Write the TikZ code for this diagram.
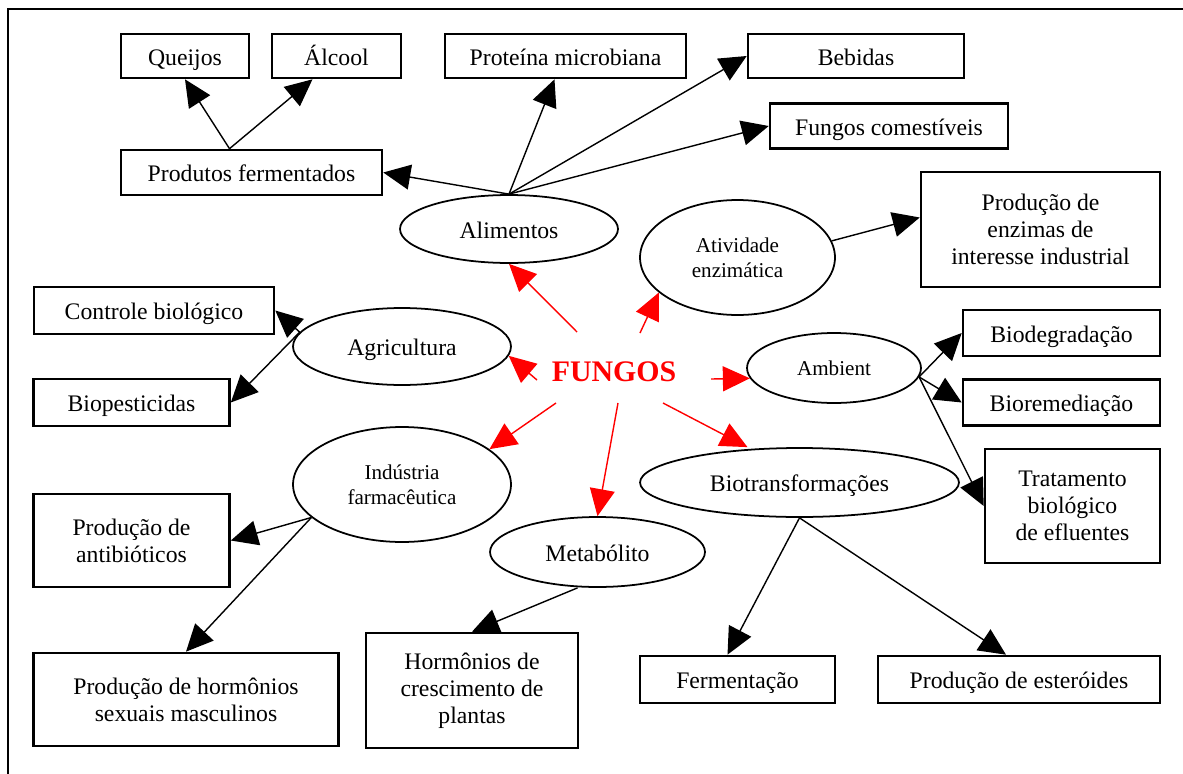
\documentclass[tikz,border=0pt]{standalone}
\usepackage{fontspec}
\setmainfont{Liberation Serif}
\usetikzlibrary{arrows.meta,calc,shapes.geometric}

\begin{document}
\begin{tikzpicture}[x=0.02cm,y=-0.02cm,
  box/.style={draw,line width=1.5pt,rectangle,inner sep=0pt,align=center,font=\fontsize{13.5}{15.5}\selectfont},
  umalinha/.style={text height=12.5pt,text depth=2pt},
  oval/.style={draw,line width=1pt,ellipse,inner sep=0pt,align=center,font=\fontsize{13.5}{15.5}\selectfont},
  smalloval/.style={oval,font=\fontsize{12}{14}\selectfont},
  seta/.style={line width=0.8pt,-{Triangle[length=0.54cm,width=0.5cm]}},
  setared/.style={seta,red}]
\useasboundingbox (0,0) rectangle (1183,774);
\draw[line width=1.3pt] (8,774) -- (8,9) -- (1183,9);
\node[box, umalinha, minimum width=2.56cm, minimum height=0.88cm] (queijos) at (185,56) {Queijos};
\node[box, umalinha, minimum width=2.58cm, minimum height=0.88cm] (alcool) at (336.5,56) {Álcool};
\node[box, umalinha, minimum width=4.82cm, minimum height=0.88cm] (prot) at (565.5,56) {Proteína microbiana};
\node[box, umalinha, minimum width=4.32cm, minimum height=0.88cm] (bebidas) at (856,56) {Bebidas};
\node[box, umalinha, minimum width=4.76cm, minimum height=0.9cm] (fcom) at (889,126) {Fungos comestíveis};
\node[box, umalinha, minimum width=5.22cm, minimum height=0.9cm] (prodf) at (251.5,172.5) {Produtos fermentados};
\node[box, minimum width=4.78cm, minimum height=2.3cm] (enz) at (1040.5,229.5) {Produção de\\enzimas de\\interesse industrial};
\node[box, umalinha, minimum width=4.8cm, minimum height=0.94cm] (ctrl) at (154,310.5) {Controle biológico};
\node[box, umalinha, minimum width=3.92cm, minimum height=0.94cm] (biop) at (131.5,402.5) {Biopesticidas};
\node[box, umalinha, minimum width=3.94cm, minimum height=0.92cm] (biodeg) at (1061.5,333) {Biodegradação};
\node[box, umalinha, minimum width=3.94cm, minimum height=0.92cm] (biorem) at (1061.5,402.5) {Bioremediação};
\node[box, minimum width=3.5cm, minimum height=2.28cm] (trat) at (1072.5,506) {Tratamento\\biológico\\de efluentes};
\node[box, minimum width=3.92cm, minimum height=1.86cm] (anti) at (131.5,540.5) {Produção de\\antibióticos};
\node[box, minimum width=6.1cm, minimum height=1.86cm] (hsex) at (186,699.5) {Produção de hormônios\\sexuais masculinos};
\node[box, minimum width=4.24cm, minimum height=2.3cm] (hcresc) at (472,690.5) {Hormônios de\\crescimento de\\plantas};
\node[box, umalinha, minimum width=3.9cm, minimum height=0.94cm] (ferm) at (737.5,679.5) {Fermentação};
\node[box, umalinha, minimum width=5.64cm, minimum height=0.94cm] (est) at (1019,679.5) {Produção de esteróides};
\node[oval, umalinha, minimum width=4.36cm, minimum height=1.36cm] (alim) at (509,229) {Alimentos};
\node[smalloval, minimum width=3.9cm, minimum height=2.3cm] (ativ) at (737.5,257.5) {Atividade\\enzimática};
\node[oval, umalinha, minimum width=4.36cm, minimum height=1.54cm] (agri) at (402,346.5) {Agricultura};
\node[smalloval, minimum width=3.48cm, minimum height=1.4cm] (amb) at (834,368) {Ambient};
\node[smalloval, minimum width=4.36cm, minimum height=2.3cm] (ind) at (402,484.5) {Indústria\\farmacêutica};
\node[oval, umalinha, minimum width=6.38cm, minimum height=1.38cm] (bio) at (799.5,482.5) {Biotransformações};
\node[oval, umalinha, minimum width=4.3cm, minimum height=1.4cm] (met) at (597.5,552) {Metabólito};
\node[text=red, font=\fontsize{17}{19}\selectfont\bfseries] (fungos) at (614,372) {FUNGOS};
\draw[seta] ($(prodf.north)+(-22,0)$) -- (queijos.south);
\draw[seta] ($(prodf.north)+(-22,0)$) -- ($(alcool.south)+(-24,0)$);
\draw[seta] (alim.north) -- (prodf.east);
\draw[seta] (alim.north) -- ($(prot.south)+(-11,0)$);
\draw[seta] (alim.north) -- (bebidas.west);
\draw[seta] (alim.north) -- (fcom.west);
\draw[seta] (ativ.10) -- ($(enz.west)+(0,-12)$);
\draw[seta] (agri.172) -- (ctrl.east);
\draw[seta] (agri.172) -- (biop.east);
\draw[seta] (amb.-6) -- (biodeg.west);
\draw[seta] (amb.-6) -- (biorem.west);
\draw[seta] (amb.-6) -- (trat.west);
\draw[seta] (ind.200) -- (anti.east);
\draw[seta] (ind.200) -- (hsex.north);
\draw[seta] ($(met.south)+(-20,0)$) -- (hcresc.north);
\draw[seta] (bio.south) -- ($(ferm.north)+(-10,0)$);
\draw[seta] (bio.south) -- ($(est.north)+(-13,0)$);
\draw[setared] ($(fungos)+(-37,-40)$) -- (alim.south);
\draw[setared] ($(fungos)+(26,-39)$) -- (ativ.204);
\draw[setared] ($(fungos)+(-77,8)$) -- (agri.-5);
\draw[setared] ($(fungos)+(-58,31)$) -- (ind.22);
\draw[setared] ($(fungos)+(4,31)$) -- (met.north);
\draw[setared] ($(fungos)+(97,7)$) -- (amb.187);
\draw[setared] ($(fungos)+(49,31)$) -- ($(bio.north)+(-52,0)$);
\end{tikzpicture}
\end{document}
